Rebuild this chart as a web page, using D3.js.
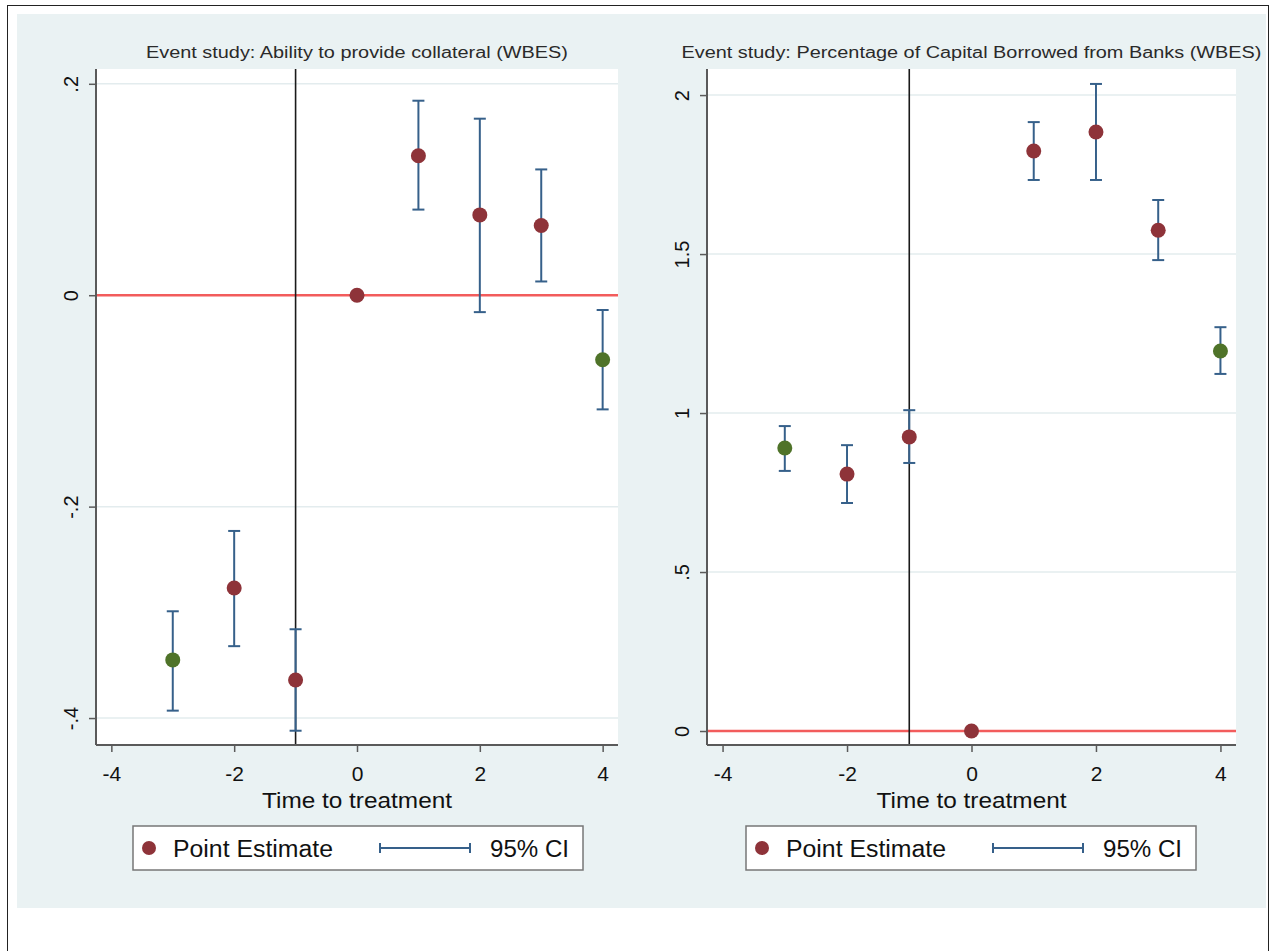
<!DOCTYPE html>
<html>
<head>
<meta charset="utf-8">
<script src="https://cdn.jsdelivr.net/npm/d3@7"></script>
<style>
  html, body { margin: 0; padding: 0; background: #ffffff; }
  svg { display: block; font-family: Arial, "Liberation Sans", sans-serif; }
</style>
</head>
<body>
<svg id="chart" width="1276" height="951"></svg>
<script>
// ---------- data ----------
const periods = [-3, -2, -1, 0, 1, 2, 3, 4];
const markerGroup = ["end", "mid", "mid", "mid", "mid", "mid", "mid", "end"];

const collateralEst = [-0.345, -0.277, -0.364, 0, 0.132, 0.076, 0.066, -0.061];
const collateralLo  = [-0.393, -0.332, -0.412, null, 0.081, -0.016, 0.013, -0.108];
const collateralHi  = [-0.299, -0.223, -0.316, null, 0.184, 0.167, 0.119, -0.014];

const bankEst = [0.890, 0.808, 0.925, 0, 1.824, 1.884, 1.575, 1.195];
const bankLo  = [0.818, 0.717, 0.843, null, 1.733, 1.733, 1.481, 1.123];
const bankHi  = [0.959, 0.899, 1.009, null, 1.915, 2.035, 1.670, 1.270];

const xTicks = [-4, -2, 0, 2, 4];
const xTickLabels = ["-4", "-2", "0", "2", "4"];
const collateralYTicks = [0.2, 0, -0.2, -0.4];
const collateralYLabels = [".2", "0", "-.2", "-.4"];
const bankYTicks = [0, 0.5, 1, 1.5, 2];
const bankYLabels = ["0", ".5", "1", "1.5", "2"];

const titles = [
  "Event study: Ability to provide collateral (WBES)",
  "Event study: Percentage of Capital Borrowed from Banks (WBES)"
];
const xAxisTitle = "Time to treatment";
const legendLabels = ["Point Estimate", "95% CI"];
const treatmentLine = -1;

// ---------- styles ----------
const colors = {
  bg: "#EAF2F3", maroon: "#8E3339", green: "#4F7329", ci: "#36608A",
  red: "#F25C5C", grid: "#E3ECEE", axis: "#5a5a5a", text: "#111111", title: "#2a2a2a"
};

const svg = d3.select("#chart");

// outer frame
svg.append("rect").attr("x", 7.5).attr("y", 5.5).attr("width", 1261).attr("height", 960)
  .attr("fill", "#fff").attr("stroke", "#222").attr("stroke-width", 1);
// panel background
svg.append("rect").attr("x", 17).attr("y", 14).attr("width", 1249).attr("height", 894)
  .attr("fill", colors.bg);

function drawPanel(cfg) {
  const { left, right, top, bottom, yDomain, est, lo, hi, yTicks, yLabels, title, titleLen, legendX } = cfg;
  const x = d3.scaleLinear().domain([-4.25, 4.25]).range([left, right]);
  const y = d3.scaleLinear().domain(yDomain).range([bottom, top]);
  const g = svg.append("g");

  // plot region
  g.append("rect").attr("x", left).attr("y", top).attr("width", right - left).attr("height", bottom - top)
    .attr("fill", "#fff");

  // gridlines
  g.selectAll(".grid").data(yTicks).join("line")
    .attr("x1", left).attr("x2", right)
    .attr("y1", d => y(d)).attr("y2", d => y(d))
    .attr("stroke", colors.grid).attr("stroke-width", 1.5);

  // title
  g.append("text").attr("x", (left + right) / 2).attr("y", 58)
    .attr("text-anchor", "middle").attr("font-size", 16).attr("fill", colors.title)
    .attr("textLength", titleLen).attr("lengthAdjust", "spacingAndGlyphs")
    .text(title);

  // red zero line
  g.append("line").attr("x1", left).attr("x2", right)
    .attr("y1", y(0)).attr("y2", y(0))
    .attr("stroke", colors.red).attr("stroke-width", 2.5);

  // vertical treatment line
  g.append("line").attr("x1", x(treatmentLine)).attr("x2", x(treatmentLine))
    .attr("y1", top).attr("y2", bottom)
    .attr("stroke", "#1a1a1a").attr("stroke-width", 1.6);

  // CIs
  const ciData = periods.map((p, i) => ({ p, lo: lo[i], hi: hi[i] })).filter(d => d.lo !== null);
  const ci = g.selectAll(".ci").data(ciData).join("g");
  ci.append("line").attr("x1", d => x(d.p)).attr("x2", d => x(d.p))
    .attr("y1", d => y(d.lo)).attr("y2", d => y(d.hi))
    .attr("stroke", colors.ci).attr("stroke-width", 2);
  ["lo", "hi"].forEach(k => {
    ci.append("line").attr("x1", d => x(d.p) - 6).attr("x2", d => x(d.p) + 6)
      .attr("y1", d => y(d[k])).attr("y2", d => y(d[k]))
      .attr("stroke", colors.ci).attr("stroke-width", 2);
  });

  // points
  g.selectAll(".pt").data(periods.map((p, i) => ({ p, v: est[i], grp: markerGroup[i] }))).join("circle")
    .attr("cx", d => x(d.p)).attr("cy", d => y(d.v)).attr("r", 7.5)
    .attr("fill", d => d.grp === "end" ? colors.green : colors.maroon);

  // axes
  const yAxis = d3.axisLeft(y).tickValues(yTicks).tickSize(7).tickPadding(4)
    .tickFormat((d, i) => yLabels[i]);
  const ya = g.append("g").attr("transform", `translate(${left},0)`).call(yAxis);
  ya.select(".domain").attr("stroke", colors.axis).attr("stroke-width", 2)
    .attr("d", `M0,${top}V${bottom}`);
  ya.selectAll(".tick line").attr("stroke", colors.axis).attr("stroke-width", 1.5);
  ya.selectAll(".tick text")
    .attr("transform", "rotate(-90)").attr("x", 0).attr("y", -18)
    .attr("dy", 0).attr("text-anchor", "middle")
    .attr("font-size", 20).attr("fill", colors.text).attr("font-family", "Arial, 'Liberation Sans', sans-serif");

  const xAxis = d3.axisBottom(x).tickValues(xTicks).tickSize(7).tickPadding(0)
    .tickFormat((d, i) => xTickLabels[i]);
  const xa = g.append("g").attr("transform", `translate(0,${bottom})`).call(xAxis);
  xa.select(".domain").attr("stroke", colors.axis).attr("stroke-width", 2)
    .attr("d", `M${left},0H${right}`);
  xa.selectAll(".tick line").attr("stroke", colors.axis).attr("stroke-width", 1.5);
  xa.selectAll(".tick text").attr("font-size", 21).attr("fill", colors.text)
    .attr("font-family", "Arial, 'Liberation Sans', sans-serif").attr("y", 36).attr("dy", 0);

  // x title
  g.append("text").attr("x", (left + right) / 2).attr("y", 808)
    .attr("text-anchor", "middle").attr("font-size", 22).attr("fill", colors.text)
    .attr("textLength", 190).attr("lengthAdjust", "spacingAndGlyphs")
    .text(xAxisTitle);

  // legend
  const lg = g.append("g").attr("transform", `translate(${legendX},826)`);
  lg.append("rect").attr("x", 0).attr("y", 0).attr("width", 450).attr("height", 44)
    .attr("fill", "#fff").attr("stroke", "#777").attr("stroke-width", 1.5);
  lg.append("circle").attr("cx", 16).attr("cy", 22).attr("r", 7).attr("fill", colors.maroon);
  lg.append("text").attr("x", 40).attr("y", 31).attr("font-size", 23).attr("fill", colors.text)
    .attr("textLength", 160).attr("lengthAdjust", "spacingAndGlyphs")
    .text(legendLabels[0]);
  lg.append("line").attr("x1", 247).attr("x2", 337).attr("y1", 22).attr("y2", 22)
    .attr("stroke", colors.ci).attr("stroke-width", 2);
  [247, 337].forEach(px => lg.append("line").attr("x1", px).attr("x2", px).attr("y1", 17).attr("y2", 27)
    .attr("stroke", colors.ci).attr("stroke-width", 2));
  lg.append("text").attr("x", 357).attr("y", 31).attr("font-size", 23).attr("fill", colors.text)
    .attr("textLength", 79).attr("lengthAdjust", "spacingAndGlyphs")
    .text(legendLabels[1]);
}

drawPanel({
  left: 96, right: 618, top: 69, bottom: 745,
  yDomain: [-0.4255, 0.214],
  est: collateralEst, lo: collateralLo, hi: collateralHi,
  yTicks: collateralYTicks, yLabels: collateralYLabels,
  title: titles[0], titleLen: 422, legendX: 133
});

drawPanel({
  left: 707, right: 1236, top: 69, bottom: 745,
  yDomain: [-0.044, 2.082],
  est: bankEst, lo: bankLo, hi: bankHi,
  yTicks: bankYTicks, yLabels: bankYLabels,
  title: titles[1], titleLen: 580, legendX: 746
});
</script>
</body>
</html>
